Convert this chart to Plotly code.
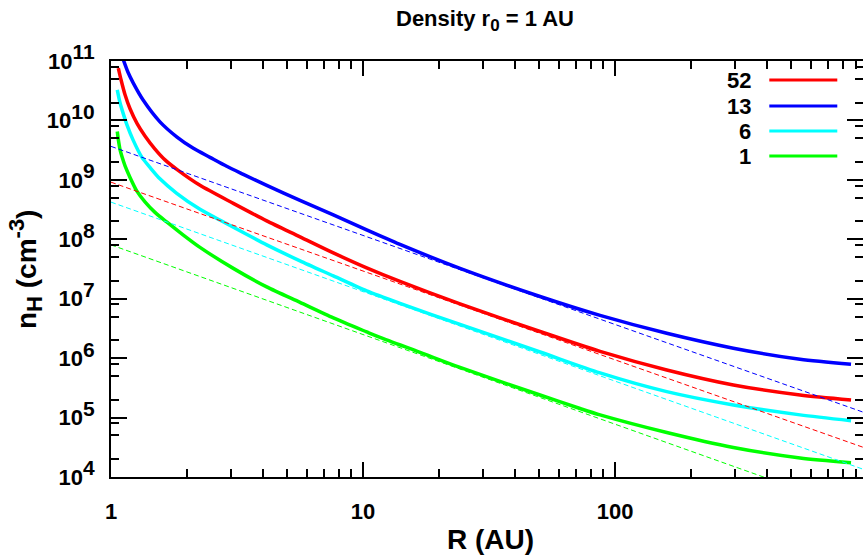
import plotly.graph_objects as go

# ---- data ----
labels = ["52", "13", "6", "1"]
colors = ["#ff0000", "#0000ff", "#00ffff", "#00ff00"]

R_red = [1.069, 1.096, 1.137, 1.190, 1.268, 1.364, 1.495, 1.638, 1.836, 2.255, 3.057, 4.149,
         5.623, 7.625, 10.34, 14.02, 24.26, 50.41, 87.20, 160.4, 294.8, 542.2, 864.0]
n_red = [7.59e10, 4.83e10, 2.70e10, 1.57e10, 8.93e9, 5.48e9, 3.30e9, 2.17e9, 1.47e9, 8.08e8,
         4.02e8, 2.04e8, 1.10e8, 5.90e7, 3.30e7, 1.95e7, 8.17e6, 2.81e6, 1.30e6, 6.33e5,
         3.54e5, 2.40e5, 1.98e5]

R_blue = [1.119, 1.168, 1.226, 1.343, 1.564, 1.823, 2.122, 2.471, 2.878, 3.350, 4.149, 5.623,
          7.625, 10.34, 14.02, 24.26, 50.41, 87.20, 160.4, 294.8, 542.2, 864.0]
n_blue = [1.05e11, 6.46e10, 4.25e10, 2.18e10, 9.47e9, 5.30e9, 3.39e9, 2.39e9, 1.69e9, 1.24e9,
          8.08e8, 4.52e8, 2.58e8, 1.44e8, 8.20e7, 3.24e7, 1.09e7, 5.24e6, 2.62e6, 1.47e6,
          9.58e5, 7.89e5]

R_cyan = [1.059, 1.086, 1.116, 1.157, 1.223, 1.327, 1.428, 1.564, 1.823, 2.255, 2.808, 4.149,
          5.623, 7.625, 10.34, 14.02, 24.26, 50.41, 87.20, 160.4, 294.8, 542.2, 864.0]
n_cyan = [3.27e10, 1.98e10, 1.34e10, 8.43e9, 4.71e9, 2.39e9, 1.62e9, 1.04e9, 5.93e8, 3.19e8,
          1.93e8, 8.05e7, 4.33e7, 2.42e7, 1.35e7, 8.34e6, 3.69e6, 1.27e6, 5.64e5, 2.73e5,
          1.63e5, 1.11e5, 8.87e4]

R_green = [1.059, 1.071, 1.086, 1.106, 1.137, 1.190, 1.265, 1.364, 1.495, 1.663, 1.931, 2.255,
           3.057, 4.149, 5.623, 7.625, 10.34, 11.68, 16.84, 24.26, 50.41, 72.62, 87.20, 160.4,
           294.8, 542.2, 864.0]
n_green = [6.50e9, 4.54e9, 3.24e9, 2.44e9, 1.72e9, 1.10e9, 6.53e8, 4.27e8, 2.84e8, 1.96e8,
           1.19e8, 7.31e7, 3.24e7, 1.58e7, 8.67e6, 4.75e6, 2.76e6, 2.23e6, 1.25e6, 6.97e5,
           2.40e5, 1.42e5, 1.11e5, 5.61e4, 3.14e4, 2.09e4, 1.74e4]

# power-law reference lines (dashed)
R_fit = [1, 1000]
fit_red = [9.14e8, 3.0e4]
fit_blue = [3.66e9, 1.17e5]
fit_cyan = [4.22e8, 1.28e4]
fit_green = [8.05e7, 2.4e3]

x_tickvals = [1, 10, 100]
x_ticktext = ["1", "10", "100"]
y_exponents = [4, 5, 6, 7, 8, 9, 10, 11]

solid = [(R_red, n_red), (R_blue, n_blue), (R_cyan, n_cyan), (R_green, n_green)]
dashed = [fit_red, fit_blue, fit_cyan, fit_green]

FONT = "Liberation Sans, Arial, Helvetica, sans-serif"

fig = go.Figure()
for (rx, ny), col, lab in zip(solid, colors, labels):
    fig.add_trace(go.Scatter(x=rx, y=ny, mode="lines", name=lab,
                             line=dict(color=col, width=3.5, shape="spline", smoothing=0.7),
                             showlegend=False))
for fy, col in zip(dashed, colors):
    fig.add_trace(go.Scatter(x=R_fit, y=fy, mode="lines",
                             line=dict(color=col, width=1, dash="5px,3px"),
                             showlegend=False))

x_minor = [m * 10 ** d for d in range(0, 3) for m in range(2, 10)]
y_minor = [m * 10 ** d for d in range(4, 11) for m in (2, 5, 8)]

SUP = "<sup><span style='font-size:21px'>%d</span></sup>"

fig.update_layout(
    width=863, height=558,
    margin=dict(l=111, r=0, t=61, b=81, pad=0, autoexpand=False),
    paper_bgcolor="white", plot_bgcolor="white",
    font=dict(family=FONT, color="black"),
    xaxis=dict(type="log", range=[0, 2.984], showgrid=False, zeroline=False, automargin=False,
               showline=True, linecolor="black", linewidth=2, mirror="allticks",
               ticks="inside", ticklen=15, tickwidth=2, tickcolor="black",
               tickmode="array", tickvals=x_tickvals, ticktext=x_ticktext,
               tickfont=dict(family=FONT, size=22, weight="bold", color="black"),
               ticklabelstandoff=14,
               minor=dict(tickmode="array", tickvals=x_minor, ticks="inside", ticklen=8,
                          tickwidth=2, tickcolor="black", showgrid=False)),
    yaxis=dict(type="log", range=[4, 11], showgrid=False, zeroline=False, automargin=False,
               showline=True, linecolor="black", linewidth=2, mirror="allticks",
               ticks="inside", ticklen=16, tickwidth=2, tickcolor="black",
               tickmode="array", tickvals=[10 ** e for e in y_exponents],
               ticktext=["10" + SUP % e for e in y_exponents],
               tickfont=dict(family=FONT, size=22, weight="bold", color="black"),
               ticklabelstandoff=10,
               minor=dict(tickmode="array", tickvals=y_minor, ticks="inside", ticklen=8,
                          tickwidth=2, tickcolor="black", showgrid=False)),
)

annotations = [
    dict(text="Density r<sub><span style='font-size:17px'>0</span></sub> = 1 AU",
         xref="paper", yref="paper", x=0.497, y=1.097,
         xanchor="center", yanchor="middle", showarrow=False, borderpad=0,
         font=dict(family=FONT, size=22, weight="bold", color="black")),
    dict(text="R (AU)", xref="paper", yref="paper", x=0.504, y=-0.1514,
         xanchor="center", yanchor="middle", showarrow=False,
         font=dict(family=FONT, size=28, weight="bold", color="black")),
    dict(text="n<sub><span style='font-size:22px'>H</span></sub> (cm<sup><span style='font-size:22px'>-3</span></sup>)",
         xref="paper", yref="paper", x=-0.1130, y=0.4976,
         xanchor="center", yanchor="middle", showarrow=False, textangle=-90, borderpad=0,
         font=dict(family=FONT, size=28, weight="bold", color="black")),
]
shapes = []
leg_y = [0.9543, 0.8918, 0.8317, 0.7716]
for lab, col, yy in zip(labels, colors, leg_y):
    annotations.append(dict(text=lab, xref="paper", yref="paper", x=0.8533, y=yy,
                            xanchor="right", yanchor="middle", showarrow=False,
                            font=dict(family=FONT, size=22, weight="bold", color="black")))
    shapes.append(dict(type="line", xref="paper", yref="paper", x0=0.8754, x1=0.9658,
                       y0=yy, y1=yy, line=dict(color=col, width=3)))
fig.update_layout(annotations=annotations, shapes=shapes)

# remove the browser's default 8px page margin so the figure fills the window exactly
fig.write_html("out.html", config={"displayModeBar": False},
               post_script="document.body.style.margin='0px';document.body.style.padding='0px';")
